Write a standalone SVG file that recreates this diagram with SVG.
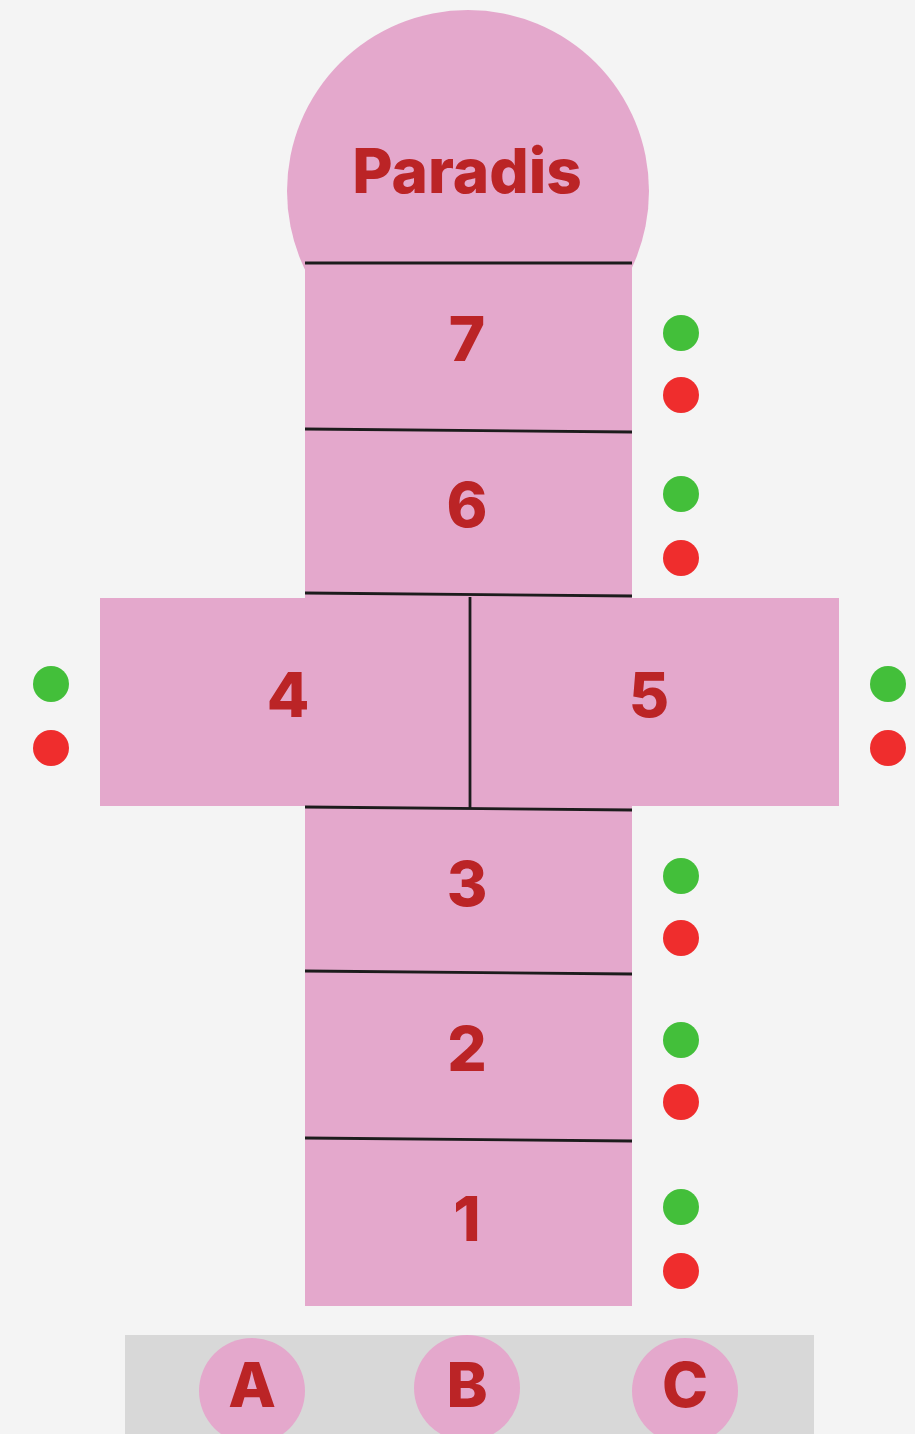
<svg xmlns="http://www.w3.org/2000/svg" width="915" height="1434" viewBox="0 0 915 1434">
<style>
.pk{fill:#e4a8cc}
.lbl{font-family:Inter,"Liberation Sans",Arial,sans-serif;font-weight:800;fill:#bb2426;text-anchor:middle}
.big{font-size:62px}
.g{fill:#43bf3a}
.r{fill:#ef2d2d}
.ln{stroke:#1c1c1c;stroke-width:2.8;fill:none}
</style>
<rect x="0" y="0" width="915" height="1434" fill="#f4f4f4"/>
<g id="paradis">
<circle class="pk" cx="468" cy="191" r="181"/>
<text class="lbl" x="467" y="193" font-size="62">Paradis</text>
</g>
<g id="case7"><rect class="pk" x="305" y="263" width="327" height="168"/><text class="lbl big" x="467" y="361">7</text></g>
<g id="case6"><rect class="pk" x="305" y="430" width="327" height="168"/><text class="lbl big" x="467" y="527">6</text></g>
<g id="case4"><rect class="pk" x="100" y="598" width="370" height="208"/><text class="lbl big" x="288" y="717">4</text></g>
<g id="case5"><rect class="pk" x="470" y="598" width="369" height="208"/><text class="lbl big" x="649" y="717">5</text></g>
<g id="case3"><rect class="pk" x="305" y="806" width="327" height="168"/><text class="lbl big" x="467" y="906">3</text></g>
<g id="case2"><rect class="pk" x="305" y="972" width="327" height="168"/><text class="lbl big" x="467" y="1071">2</text></g>
<g id="case1"><rect class="pk" x="305" y="1139" width="327" height="167"/><text class="lbl big" x="467" y="1241">1</text></g>
<g id="connectors">
<line class="ln" x1="305" y1="263" x2="632" y2="263"/>
<line class="ln" x1="305" y1="429" x2="632" y2="432"/>
<line class="ln" x1="305" y1="593" x2="632" y2="596"/>
<line class="ln" x1="470" y1="597" x2="470" y2="808"/>
<line class="ln" x1="305" y1="807" x2="632" y2="810"/>
<line class="ln" x1="305" y1="971" x2="632" y2="974"/>
<line class="ln" x1="305" y1="1138" x2="632" y2="1141"/>
</g>
<g id="dots">
<circle class="g" cx="681" cy="333" r="18"/><circle class="r" cx="681" cy="395" r="18"/>
<circle class="g" cx="681" cy="494" r="18"/><circle class="r" cx="681" cy="558" r="18"/>
<circle class="g" cx="51" cy="684" r="18"/><circle class="r" cx="51" cy="748" r="18"/>
<circle class="g" cx="888" cy="684" r="18"/><circle class="r" cx="888" cy="748" r="18"/>
<circle class="g" cx="681" cy="876" r="18"/><circle class="r" cx="681" cy="938" r="18"/>
<circle class="g" cx="681" cy="1040" r="18"/><circle class="r" cx="681" cy="1102" r="18"/>
<circle class="g" cx="681" cy="1207" r="18"/><circle class="r" cx="681" cy="1271" r="18"/>
</g>
<g id="players">
<rect x="125" y="1335" width="689" height="99" fill="#d8d8d8"/>
<g id="playerA"><circle class="pk" cx="252" cy="1391" r="53"/><text class="lbl big" x="252" y="1407">A</text></g>
<g id="playerB"><circle class="pk" cx="467" cy="1388" r="53"/><text class="lbl big" x="467" y="1407">B</text></g>
<g id="playerC"><circle class="pk" cx="685" cy="1391" r="53"/><text class="lbl big" x="685" y="1407">C</text></g>
</g>
</svg>
